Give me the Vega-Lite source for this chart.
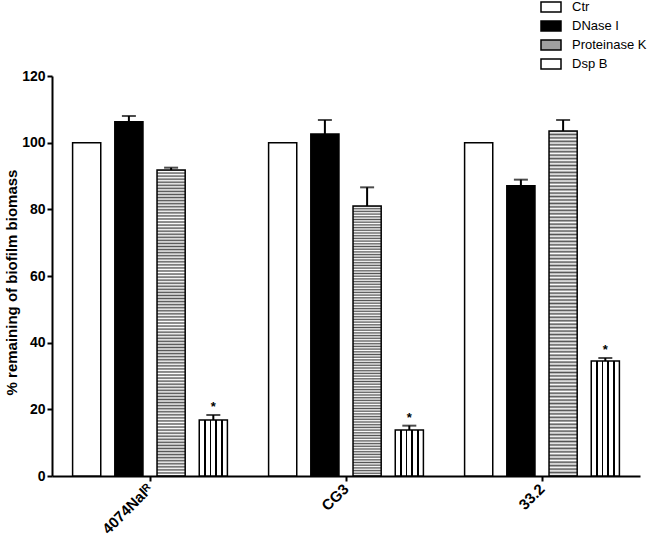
{
  "$schema": "https://vega.github.io/schema/vega-lite/v6.json",
  "width": 588,
  "height": 400,
  "autosize": "none",
  "padding": {"left": 52, "top": 76, "right": 10, "bottom": 66},
  "background": "white",
  "config": {
    "view": {"stroke": null},
    "font": "Liberation Sans",
    "axis": {"grid": false, "domainColor": "black", "domainWidth": 2, "tickColor": "black", "tickWidth": 2, "tickSize": 5, "labelColor": "black", "labelFont": "Liberation Sans", "labelFontWeight": "bold", "labelFontSize": 14, "titleColor": "black", "titleFont": "Liberation Sans"}
  },
  "data": {
    "values": [
      {"strain": "4074Nalᴿ", "treatment": "Ctr", "value": 100, "upper": null, "star": false},
      {"strain": "4074Nalᴿ", "treatment": "DNase I", "value": 106.3, "upper": 108.0, "star": false},
      {"strain": "4074Nalᴿ", "treatment": "Proteinase K", "value": 91.8, "upper": 92.5, "star": false},
      {"strain": "4074Nalᴿ", "treatment": "Dsp B", "value": 16.8, "upper": 18.3, "star": true},
      {"strain": "CG3", "treatment": "Ctr", "value": 100, "upper": null, "star": false},
      {"strain": "CG3", "treatment": "DNase I", "value": 102.6, "upper": 106.8, "star": false},
      {"strain": "CG3", "treatment": "Proteinase K", "value": 81.0, "upper": 86.6, "star": false},
      {"strain": "CG3", "treatment": "Dsp B", "value": 13.8, "upper": 15.1, "star": true},
      {"strain": "33.2", "treatment": "Ctr", "value": 100, "upper": null, "star": false},
      {"strain": "33.2", "treatment": "DNase I", "value": 87.1, "upper": 88.9, "star": false},
      {"strain": "33.2", "treatment": "Proteinase K", "value": 103.5, "upper": 106.8, "star": false},
      {"strain": "33.2", "treatment": "Dsp B", "value": 34.5, "upper": 35.4, "star": true}
    ]
  },
  "encoding": {
    "x": {"field": "strain", "type": "nominal", "sort": ["4074Nalᴿ", "CG3", "33.2"], "scale": {"paddingInner": 0, "paddingOuter": 0}, "axis": {"title": null, "labelAngle": -45, "labelAlign": "right", "labelBaseline": "middle", "labelPadding": 5, "labelFontSize": 15}},
    "xOffset": {"field": "treatment", "type": "nominal", "sort": ["Ctr", "DNase I", "Proteinase K", "Dsp B"], "scale": {"paddingInner": 0.333, "paddingOuter": 0.488}}
  },
  "layer": [
    {
      "mark": {"type": "bar", "strokeWidth": 1.5},
      "encoding": {
        "y": {"field": "value", "type": "quantitative", "scale": {"domain": [0, 120]}, "axis": {"values": [0, 20, 40, 60, 80, 100, 120], "title": "% remaining of biofilm biomass", "titleFontSize": 15, "titleFontWeight": "bold", "titleX": -33, "titleY": 206, "titleAlign": "center", "titleBaseline": "bottom", "titleAngle": -90}},
        "stroke": {
          "field": "treatment", "type": "nominal",
          "scale": {"domain": ["Ctr", "DNase I", "Proteinase K", "Dsp B"], "range": ["#000000", "#000000", "#000000", "#000000"]},
          "legend": {
            "orient": "none", "legendX": 488, "legendY": -80, "title": null,
            "symbolType": "M-1,-0.5H1V0.5H-1Z", "symbolSize": 400, "symbolStrokeWidth": 1.5,
            "labelFont": "Liberation Sans", "labelFontSize": 13, "labelColor": "black", "labelOffset": 10, "rowPadding": 0, "padding": 0
          }
        },
        "fill": {
          "field": "treatment", "type": "nominal",
          "scale": {"domain": ["Ctr", "DNase I", "Proteinase K", "Dsp B"], "range": ["#ffffff", "#000000", "#a0a0a0", "#ffffff"]},
          "legend": {
            "orient": "none", "legendX": 488, "legendY": -80, "title": null,
            "symbolType": "M-1,-0.5H1V0.5H-1Z", "symbolSize": 400, "symbolStrokeWidth": 1.5,
            "labelFont": "Liberation Sans", "labelFontSize": 13, "labelColor": "black", "labelOffset": 10, "rowPadding": 0, "padding": 0
          },
          "condition": [
            {"test": "datum.treatment === 'Proteinase K'", "value": {"gradient": "linear", "x1": 0, "y1": 0, "x2": 0, "y2": 1, "stops": [
              {"offset":0,"color":"#555"},{"offset":0.005,"color":"#fff"},{"offset":0.01,"color":"#555"},{"offset":0.015,"color":"#fff"},{"offset":0.02,"color":"#555"},{"offset":0.025,"color":"#fff"},{"offset":0.03,"color":"#555"},{"offset":0.035,"color":"#fff"},{"offset":0.04,"color":"#555"},{"offset":0.045,"color":"#fff"},
              {"offset":0.05,"color":"#555"},{"offset":0.055,"color":"#fff"},{"offset":0.06,"color":"#555"},{"offset":0.065,"color":"#fff"},{"offset":0.07,"color":"#555"},{"offset":0.075,"color":"#fff"},{"offset":0.08,"color":"#555"},{"offset":0.085,"color":"#fff"},{"offset":0.09,"color":"#555"},{"offset":0.095,"color":"#fff"},
              {"offset":0.1,"color":"#555"},{"offset":0.105,"color":"#fff"},{"offset":0.11,"color":"#555"},{"offset":0.115,"color":"#fff"},{"offset":0.12,"color":"#555"},{"offset":0.125,"color":"#fff"},{"offset":0.13,"color":"#555"},{"offset":0.135,"color":"#fff"},{"offset":0.14,"color":"#555"},{"offset":0.145,"color":"#fff"},
              {"offset":0.15,"color":"#555"},{"offset":0.155,"color":"#fff"},{"offset":0.16,"color":"#555"},{"offset":0.165,"color":"#fff"},{"offset":0.17,"color":"#555"},{"offset":0.175,"color":"#fff"},{"offset":0.18,"color":"#555"},{"offset":0.185,"color":"#fff"},{"offset":0.19,"color":"#555"},{"offset":0.195,"color":"#fff"},
              {"offset":0.2,"color":"#555"},{"offset":0.205,"color":"#fff"},{"offset":0.21,"color":"#555"},{"offset":0.215,"color":"#fff"},{"offset":0.22,"color":"#555"},{"offset":0.225,"color":"#fff"},{"offset":0.23,"color":"#555"},{"offset":0.235,"color":"#fff"},{"offset":0.24,"color":"#555"},{"offset":0.245,"color":"#fff"},
              {"offset":0.25,"color":"#555"},{"offset":0.255,"color":"#fff"},{"offset":0.26,"color":"#555"},{"offset":0.265,"color":"#fff"},{"offset":0.27,"color":"#555"},{"offset":0.275,"color":"#fff"},{"offset":0.28,"color":"#555"},{"offset":0.285,"color":"#fff"},{"offset":0.29,"color":"#555"},{"offset":0.295,"color":"#fff"},
              {"offset":0.3,"color":"#555"},{"offset":0.305,"color":"#fff"},{"offset":0.31,"color":"#555"},{"offset":0.315,"color":"#fff"},{"offset":0.32,"color":"#555"},{"offset":0.325,"color":"#fff"},{"offset":0.33,"color":"#555"},{"offset":0.335,"color":"#fff"},{"offset":0.34,"color":"#555"},{"offset":0.345,"color":"#fff"},
              {"offset":0.35,"color":"#555"},{"offset":0.355,"color":"#fff"},{"offset":0.36,"color":"#555"},{"offset":0.365,"color":"#fff"},{"offset":0.37,"color":"#555"},{"offset":0.375,"color":"#fff"},{"offset":0.38,"color":"#555"},{"offset":0.385,"color":"#fff"},{"offset":0.39,"color":"#555"},{"offset":0.395,"color":"#fff"},
              {"offset":0.4,"color":"#555"},{"offset":0.405,"color":"#fff"},{"offset":0.41,"color":"#555"},{"offset":0.415,"color":"#fff"},{"offset":0.42,"color":"#555"},{"offset":0.425,"color":"#fff"},{"offset":0.43,"color":"#555"},{"offset":0.435,"color":"#fff"},{"offset":0.44,"color":"#555"},{"offset":0.445,"color":"#fff"},
              {"offset":0.45,"color":"#555"},{"offset":0.455,"color":"#fff"},{"offset":0.46,"color":"#555"},{"offset":0.465,"color":"#fff"},{"offset":0.47,"color":"#555"},{"offset":0.475,"color":"#fff"},{"offset":0.48,"color":"#555"},{"offset":0.485,"color":"#fff"},{"offset":0.49,"color":"#555"},{"offset":0.495,"color":"#fff"},
              {"offset":0.5,"color":"#555"},{"offset":0.505,"color":"#fff"},{"offset":0.51,"color":"#555"},{"offset":0.515,"color":"#fff"},{"offset":0.52,"color":"#555"},{"offset":0.525,"color":"#fff"},{"offset":0.53,"color":"#555"},{"offset":0.535,"color":"#fff"},{"offset":0.54,"color":"#555"},{"offset":0.545,"color":"#fff"},
              {"offset":0.55,"color":"#555"},{"offset":0.555,"color":"#fff"},{"offset":0.56,"color":"#555"},{"offset":0.565,"color":"#fff"},{"offset":0.57,"color":"#555"},{"offset":0.575,"color":"#fff"},{"offset":0.58,"color":"#555"},{"offset":0.585,"color":"#fff"},{"offset":0.59,"color":"#555"},{"offset":0.595,"color":"#fff"},
              {"offset":0.6,"color":"#555"},{"offset":0.605,"color":"#fff"},{"offset":0.61,"color":"#555"},{"offset":0.615,"color":"#fff"},{"offset":0.62,"color":"#555"},{"offset":0.625,"color":"#fff"},{"offset":0.63,"color":"#555"},{"offset":0.635,"color":"#fff"},{"offset":0.64,"color":"#555"},{"offset":0.645,"color":"#fff"},
              {"offset":0.65,"color":"#555"},{"offset":0.655,"color":"#fff"},{"offset":0.66,"color":"#555"},{"offset":0.665,"color":"#fff"},{"offset":0.67,"color":"#555"},{"offset":0.675,"color":"#fff"},{"offset":0.68,"color":"#555"},{"offset":0.685,"color":"#fff"},{"offset":0.69,"color":"#555"},{"offset":0.695,"color":"#fff"},
              {"offset":0.7,"color":"#555"},{"offset":0.705,"color":"#fff"},{"offset":0.71,"color":"#555"},{"offset":0.715,"color":"#fff"},{"offset":0.72,"color":"#555"},{"offset":0.725,"color":"#fff"},{"offset":0.73,"color":"#555"},{"offset":0.735,"color":"#fff"},{"offset":0.74,"color":"#555"},{"offset":0.745,"color":"#fff"},
              {"offset":0.75,"color":"#555"},{"offset":0.755,"color":"#fff"},{"offset":0.76,"color":"#555"},{"offset":0.765,"color":"#fff"},{"offset":0.77,"color":"#555"},{"offset":0.775,"color":"#fff"},{"offset":0.78,"color":"#555"},{"offset":0.785,"color":"#fff"},{"offset":0.79,"color":"#555"},{"offset":0.795,"color":"#fff"},
              {"offset":0.8,"color":"#555"},{"offset":0.805,"color":"#fff"},{"offset":0.81,"color":"#555"},{"offset":0.815,"color":"#fff"},{"offset":0.82,"color":"#555"},{"offset":0.825,"color":"#fff"},{"offset":0.83,"color":"#555"},{"offset":0.835,"color":"#fff"},{"offset":0.84,"color":"#555"},{"offset":0.845,"color":"#fff"},
              {"offset":0.85,"color":"#555"},{"offset":0.855,"color":"#fff"},{"offset":0.86,"color":"#555"},{"offset":0.865,"color":"#fff"},{"offset":0.87,"color":"#555"},{"offset":0.875,"color":"#fff"},{"offset":0.88,"color":"#555"},{"offset":0.885,"color":"#fff"},{"offset":0.89,"color":"#555"},{"offset":0.895,"color":"#fff"},
              {"offset":0.9,"color":"#555"},{"offset":0.905,"color":"#fff"},{"offset":0.91,"color":"#555"},{"offset":0.915,"color":"#fff"},{"offset":0.92,"color":"#555"},{"offset":0.925,"color":"#fff"},{"offset":0.93,"color":"#555"},{"offset":0.935,"color":"#fff"},{"offset":0.94,"color":"#555"},{"offset":0.945,"color":"#fff"},
              {"offset":0.95,"color":"#555"},{"offset":0.955,"color":"#fff"},{"offset":0.96,"color":"#555"},{"offset":0.965,"color":"#fff"},{"offset":0.97,"color":"#555"},{"offset":0.975,"color":"#fff"},{"offset":0.98,"color":"#555"},{"offset":0.985,"color":"#fff"},{"offset":0.99,"color":"#555"},{"offset":0.995,"color":"#fff"},
              {"offset":1,"color":"#555"}
            ]}},
            {"test": "datum.treatment === 'Dsp B'", "value": {"gradient": "linear", "x1": 0, "y1": 0, "x2": 1, "y2": 0, "stops": [
              {"offset":0,"color":"#fff"},{"offset":0.165,"color":"#fff"},{"offset":0.165,"color":"#000"},{"offset":0.235,"color":"#000"},{"offset":0.235,"color":"#fff"},
              {"offset":0.365,"color":"#fff"},{"offset":0.365,"color":"#000"},{"offset":0.435,"color":"#000"},{"offset":0.435,"color":"#fff"},
              {"offset":0.565,"color":"#fff"},{"offset":0.565,"color":"#000"},{"offset":0.635,"color":"#000"},{"offset":0.635,"color":"#fff"},
              {"offset":0.765,"color":"#fff"},{"offset":0.765,"color":"#000"},{"offset":0.835,"color":"#000"},{"offset":0.835,"color":"#fff"},{"offset":1,"color":"#fff"}
            ]}}
          ]
        }
      }
    },
    {
      "transform": [{"filter": "datum.upper != null"}],
      "mark": {"type": "rule", "color": "black", "strokeWidth": 2},
      "encoding": {"y": {"field": "value", "type": "quantitative"}, "y2": {"field": "upper"}}
    },
    {
      "transform": [{"filter": "datum.upper != null"}],
      "mark": {"type": "tick", "orient": "horizontal", "color": "black", "size": 14, "thickness": 2},
      "encoding": {"y": {"field": "upper", "type": "quantitative"}}
    },
    {
      "transform": [{"filter": "datum.star"}],
      "mark": {"type": "text", "text": "*", "font": "Liberation Sans", "fontSize": 13, "fontWeight": "bold", "color": "black", "baseline": "bottom", "dy": -1},
      "encoding": {"y": {"field": "upper", "type": "quantitative"}}
    }
  ]
}
